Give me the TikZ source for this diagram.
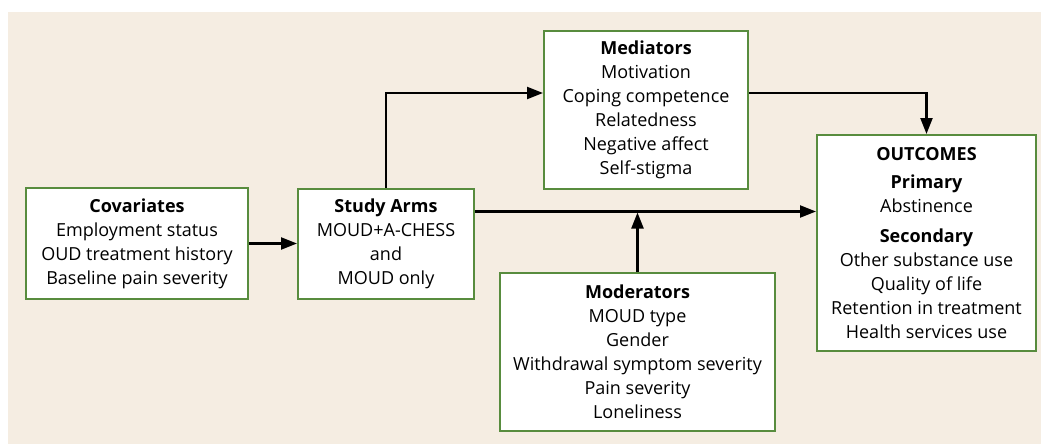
\documentclass[tikz,border=0pt]{standalone}
\usepackage{fontspec}
\setmainfont{Open Sans}
\usetikzlibrary{arrows.meta}
\definecolor{bg}{RGB}{245,237,226}
\definecolor{boxgreen}{RGB}{88,140,62}
\begin{document}
\begin{tikzpicture}[x=1pt,y=-1pt,
  box/.style={draw=boxgreen, line width=2pt, fill=white, align=center, inner sep=0pt,
    font=\fontsize{18}{24}\selectfont},
  conn/.style={line width=2.2pt, -{Triangle[length=16pt,width=12pt]}}]
\useasboundingbox (0,0) rectangle (1041,444);
\fill[white] (0,0) rectangle (1041,444);
\fill[bg] (8,12) rectangle (1041,444);
\node[box, minimum width=222pt, minimum height=111pt] (cov) at (137,243.5)
  {\textbf{Covariates}\\Employment status\\OUD treatment history\\Baseline pain severity};
\node[box, minimum width=176pt, minimum height=110pt] (arms) at (386,243.5)
  {\textbf{Study Arms}\\MOUD+A-CHESS\\and\\MOUD only};
\node[box, minimum width=204pt, minimum height=158pt] (med) at (646,110)
  {\textbf{Mediators}\\Motivation\\Coping competence\\Relatedness\\Negative affect\\Self-stigma};
\node[box, minimum width=219pt, minimum height=216pt] (out) at (926.5,243)
  {\textbf{OUTCOMES}\\[4pt]\textbf{Primary}\\Abstinence\\[6pt]\textbf{Secondary}\\Other substance use\\Quality of life\\Retention in treatment\\Health services use};
\node[box, minimum width=275pt, minimum height=158pt] (mod) at (637.5,352)
  {\textbf{Moderators}\\MOUD type\\Gender\\Withdrawal symptom severity\\Pain severity\\Loneliness};
\coordinate (a1) at ([yshift=32pt]arms.east);
\draw[conn] (cov.east) -- (arms.west);
\draw[conn] (arms.north) |- ([yshift=17pt]med.west);
\draw[conn] ([yshift=17pt]med.east) -| (out.north);
\draw[conn] (a1) -- (a1 -| out.west);
\draw[conn, shorten >=1pt] (mod.north) -- (mod.north |- a1);
\end{tikzpicture}
\end{document}
